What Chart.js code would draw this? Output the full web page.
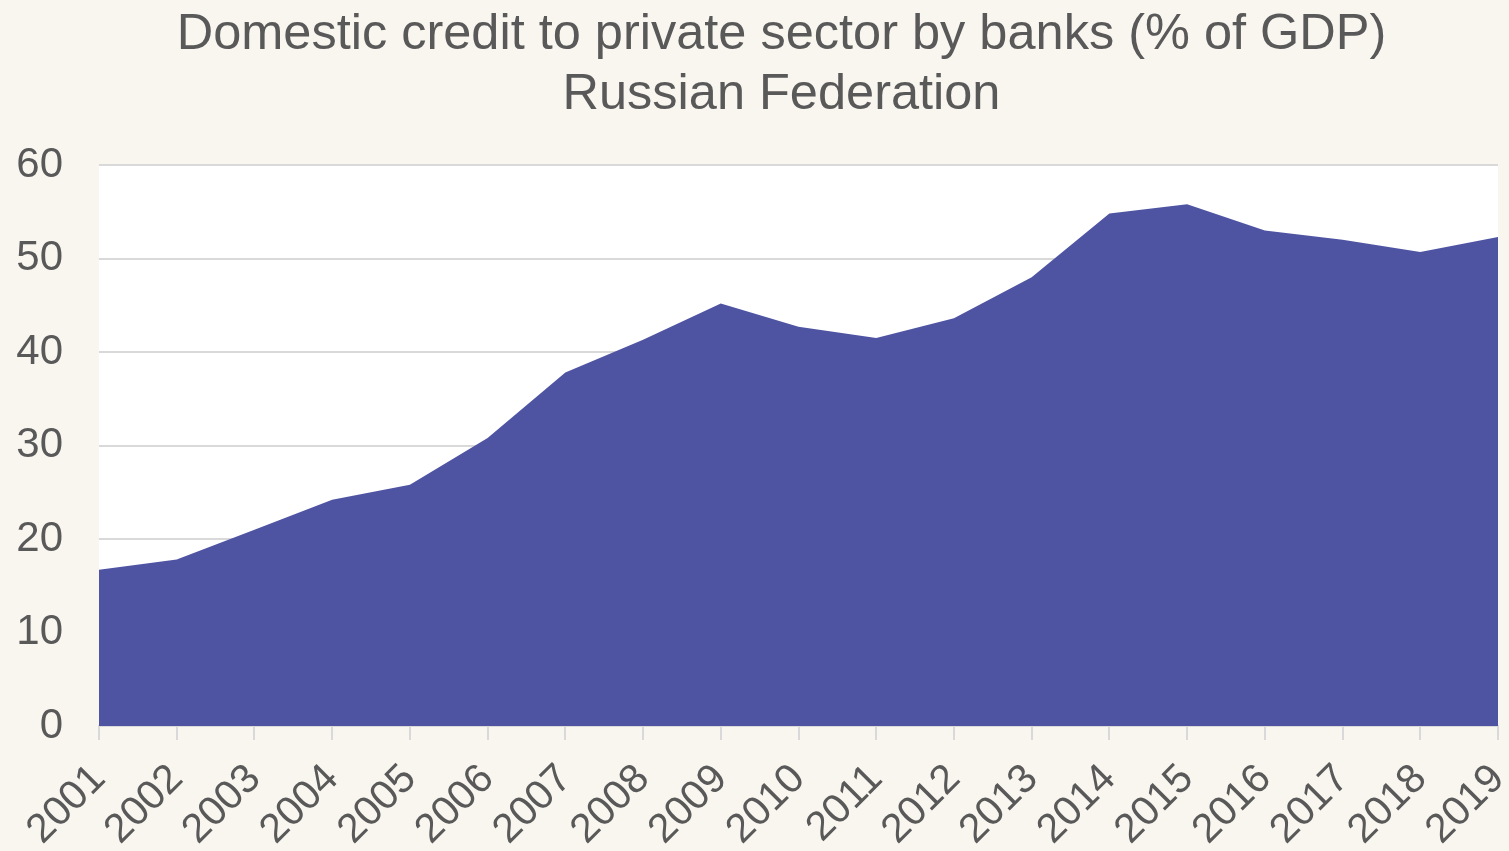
<!DOCTYPE html>
<html>
<head>
<meta charset="utf-8">
<script src="https://cdn.jsdelivr.net/npm/chart.js@4"></script>
<style>
  body { margin: 0; background: #f9f5ef; }
  #wrap { width: 1509px; height: 851px; }
</style>
</head>
<body>
<div id="wrap"><canvas id="credit"></canvas></div>
<script>
Chart.defaults.color = '#595959';
Chart.defaults.font.family = '"Liberation Sans", Arial, sans-serif';

const titleLines = ['Domestic credit to private sector by banks (% of GDP)', 'Russian Federation'];
const years = ['2001', '2002', '2003', '2004', '2005', '2006', '2007', '2008', '2009', '2010',
  '2011', '2012', '2013', '2014', '2015', '2016', '2017', '2018', '2019'];
const creditPct = [16.7, 17.8, 21.0, 24.2, 25.8, 30.8, 37.8, 41.3, 45.2, 42.7,
  41.5, 43.6, 48.0, 54.8, 55.8, 53.0, 52.0, 50.7, 52.3];

const areaColor = '#4e54a2';
const gridColor = '#d9d9d9';

// white plot area + two-line title centred a bit left of the plot centre
const decor = {
  id: 'decor',
  beforeDraw(chart) {
    const { ctx, chartArea: a } = chart;
    ctx.save();
    ctx.fillStyle = '#fff';
    ctx.fillRect(a.left, a.top, a.right - a.left, a.bottom - a.top);
    ctx.restore();
  },
  afterDraw(chart) {
    const { ctx, chartArea: a } = chart;
    const cx = (a.left + a.right) / 2 - 17;
    ctx.save();
    ctx.fillStyle = '#595959';
    ctx.font = '50.5px "Liberation Sans", Arial, sans-serif';
    ctx.textAlign = 'center';
    ctx.textBaseline = 'alphabetic';
    titleLines.forEach((t, i) => ctx.fillText(t, cx, 49 + i * 60));
    ctx.restore();
  }
};

new Chart(document.getElementById('credit'), {
  type: 'line',
  data: {
    labels: years,
    datasets: [{
      data: creditPct,
      fill: 'origin',
      backgroundColor: areaColor,
      borderWidth: 0,
      pointRadius: 0,
      tension: 0
    }]
  },
  options: {
    responsive: true,
    maintainAspectRatio: false,
    animation: false,
    layout: { padding: { top: 165, right: 11, left: 0, bottom: 0 } },
    plugins: {
      legend: { display: false },
      tooltip: { enabled: false }
    },
    scales: {
      x: {
        offset: false,
        grid: {
          drawOnChartArea: false,
          drawTicks: true,
          tickLength: 14,
          color: gridColor,
          lineWidth: 2
        },
        border: { display: true, color: gridColor, width: 2 },
        ticks: {
          autoSkip: false,
          minRotation: 45,
          maxRotation: 45,
          padding: 15,
          font: { size: 41 }
        },
        afterFit(scale) {
          scale.height = 125;
          scale.paddingRight = 0;
        }
      },
      y: {
        min: 0,
        max: 60,
        ticks: {
          stepSize: 10,
          padding: 36,
          font: { size: 42 }
        },
        grid: { color: gridColor, lineWidth: 2, drawTicks: false },
        border: { display: false },
        afterFit(scale) { scale.width = 99; }
      }
    }
  },
  plugins: [decor]
});
</script>
</body>
</html>
